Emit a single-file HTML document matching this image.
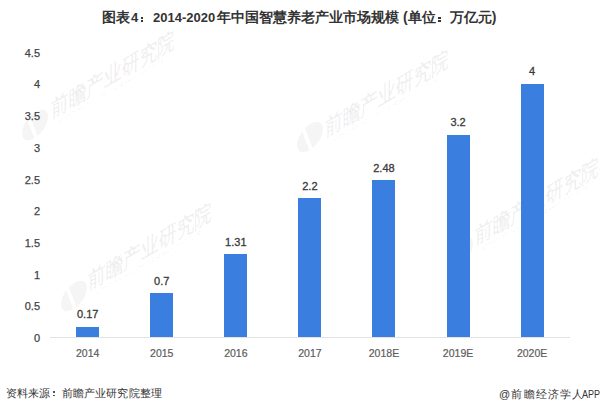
<!DOCTYPE html>
<html><head><meta charset="utf-8">
<style>
html,body{margin:0;padding:0;background:#fff;}
body{width:600px;height:411px;position:relative;overflow:hidden;font-family:"Liberation Sans",sans-serif;}
.t{position:absolute;top:9px;font-size:14px;font-weight:bold;color:#333;white-space:nowrap;line-height:17px;}
.d{font-size:13px;}
.cd{position:absolute;width:2.6px;height:1.8px;background:#333;}
.bar{position:absolute;background:rgb(58,127,224);}
.axis{position:absolute;left:50px;top:337.0px;width:520px;height:1px;background:#e2e2e2;}
.dl,.xl{position:absolute;width:60px;text-align:center;font-size:11px;color:#3a3a3a;line-height:16px;-webkit-text-stroke:0.3px #3a3a3a;}
.xl{color:#5c5c5c;font-size:10.5px;-webkit-text-stroke:0.2px #5c5c5c;}
.yl{position:absolute;left:0;width:40px;text-align:right;font-size:11px;color:#444;line-height:16px;-webkit-text-stroke:0.25px #444;}
.src{position:absolute;left:6px;top:386px;font-size:11px;color:#333;white-space:nowrap;letter-spacing:0.15px;line-height:14px;}
.app{position:absolute;left:499px;top:387px;font-size:11px;color:#333;white-space:nowrap;letter-spacing:1.2px;line-height:14px;}
.wm{position:absolute;left:0;top:0;font-family:"Liberation Sans",sans-serif;}
</style></head><body>
<svg class="wm" width="600" height="411" viewBox="0 0 600 411"><g transform="translate(35,125) skewY(-32)"><circle cx="0" cy="0" r="13" fill="rgba(0,0,0,0.04)"/><path d="M-7,-13 L1,13" stroke="#fff" stroke-width="3" fill="none"/></g><g transform="translate(51,118) skewY(-30)"><text x="0" y="0" font-size="23" font-weight="900" fill="rgba(0,0,0,0.06)" textLength="124" lengthAdjust="spacingAndGlyphs">前瞻产业研究院</text><text x="8" y="9" font-size="5" fill="rgba(0,0,0,0.07)" textLength="105" lengthAdjust="spacing">QIANZHAN INDUSTRY RESEARCH INSTITUTE</text></g><g transform="translate(310,137) skewY(-32)"><circle cx="0" cy="0" r="13" fill="rgba(0,0,0,0.04)"/><path d="M-7,-13 L1,13" stroke="#fff" stroke-width="3" fill="none"/></g><g transform="translate(325,137) skewY(-30)"><text x="0" y="0" font-size="23" font-weight="900" fill="rgba(0,0,0,0.06)" textLength="124" lengthAdjust="spacingAndGlyphs">前瞻产业研究院</text><text x="8" y="9" font-size="5" fill="rgba(0,0,0,0.07)" textLength="105" lengthAdjust="spacing">QIANZHAN INDUSTRY RESEARCH INSTITUTE</text></g><g transform="translate(74,296) skewY(-32)"><circle cx="0" cy="0" r="13" fill="rgba(0,0,0,0.04)"/><path d="M-7,-13 L1,13" stroke="#fff" stroke-width="3" fill="none"/></g><g transform="translate(88,290) skewY(-30)"><text x="0" y="0" font-size="23" font-weight="900" fill="rgba(0,0,0,0.06)" textLength="124" lengthAdjust="spacingAndGlyphs">前瞻产业研究院</text><text x="8" y="9" font-size="5" fill="rgba(0,0,0,0.07)" textLength="105" lengthAdjust="spacing">QIANZHAN INDUSTRY RESEARCH INSTITUTE</text></g><g transform="translate(460,252) skewY(-32)"><circle cx="0" cy="0" r="13" fill="rgba(0,0,0,0.04)"/><path d="M-7,-13 L1,13" stroke="#fff" stroke-width="3" fill="none"/></g><g transform="translate(475,245) skewY(-30)"><text x="0" y="0" font-size="23" font-weight="900" fill="rgba(0,0,0,0.06)" textLength="124" lengthAdjust="spacingAndGlyphs">前瞻产业研究院</text><text x="8" y="9" font-size="5" fill="rgba(0,0,0,0.07)" textLength="105" lengthAdjust="spacing">QIANZHAN INDUSTRY RESEARCH INSTITUTE</text></g></svg>
<div class="t" style="left:102px">图表</div>
<div class="t d" style="left:131px">4</div>
<div class="cd" style="left:140.5px;top:17.4px"></div><div class="cd" style="left:140.5px;top:20.4px"></div>
<div class="t d" style="left:153px">2014-2020</div>
<div class="t" style="left:217px">年中国智慧养老产业市场规模</div>
<div class="t" style="left:403px">(单位</div>
<div class="cd" style="left:438px;top:17.4px"></div><div class="cd" style="left:438px;top:20.4px"></div>
<div class="t" style="left:449.66px">万亿元)</div>
<div class="axis"></div>
<div class="bar" style="left:76.20px;top:326.72px;width:23px;height:10.78px"></div><div class="dl" style="left:57.70px;top:306.22px">0.17</div><div class="xl" style="left:57.70px;top:344.50px">2014</div><div class="bar" style="left:150.27px;top:293.12px;width:23px;height:44.38px"></div><div class="dl" style="left:131.77px;top:272.62px">0.7</div><div class="xl" style="left:131.77px;top:344.50px">2015</div><div class="bar" style="left:224.34px;top:254.45px;width:23px;height:83.05px"></div><div class="dl" style="left:205.84px;top:233.95px">1.31</div><div class="xl" style="left:205.84px;top:344.50px">2016</div><div class="bar" style="left:298.41px;top:198.02px;width:23px;height:139.48px"></div><div class="dl" style="left:279.91px;top:177.52px">2.2</div><div class="xl" style="left:279.91px;top:344.50px">2017</div><div class="bar" style="left:372.48px;top:180.27px;width:23px;height:157.23px"></div><div class="dl" style="left:353.98px;top:159.77px">2.48</div><div class="xl" style="left:353.98px;top:344.50px">2018E</div><div class="bar" style="left:446.55px;top:134.62px;width:23px;height:202.88px"></div><div class="dl" style="left:428.05px;top:114.12px">3.2</div><div class="xl" style="left:428.05px;top:344.50px">2019E</div><div class="bar" style="left:520.62px;top:83.90px;width:23px;height:253.60px"></div><div class="dl" style="left:502.12px;top:63.40px">4</div><div class="xl" style="left:502.12px;top:344.50px">2020E</div><div class="yl" style="top:330.00px">0</div><div class="yl" style="top:298.30px">0.5</div><div class="yl" style="top:266.60px">1</div><div class="yl" style="top:234.90px">1.5</div><div class="yl" style="top:203.20px">2</div><div class="yl" style="top:171.50px">2.5</div><div class="yl" style="top:139.80px">3</div><div class="yl" style="top:108.10px">3.5</div><div class="yl" style="top:76.40px">4</div><div class="yl" style="top:44.70px">4.5</div>
<div class="src">资料来源　前瞻产业研究院整理</div>
<div class="cd" style="left:53.2px;top:391.2px;width:1.8px;height:1.8px;background:#555"></div><div class="cd" style="left:53.2px;top:394.6px;width:1.8px;height:1.8px;background:#555"></div>
<div class="app">@前瞻经济学人<span style="display:inline-block;letter-spacing:0;transform:scaleX(0.82);transform-origin:0 0;margin-left:-2.5px">APP</span></div>
</body></html>
